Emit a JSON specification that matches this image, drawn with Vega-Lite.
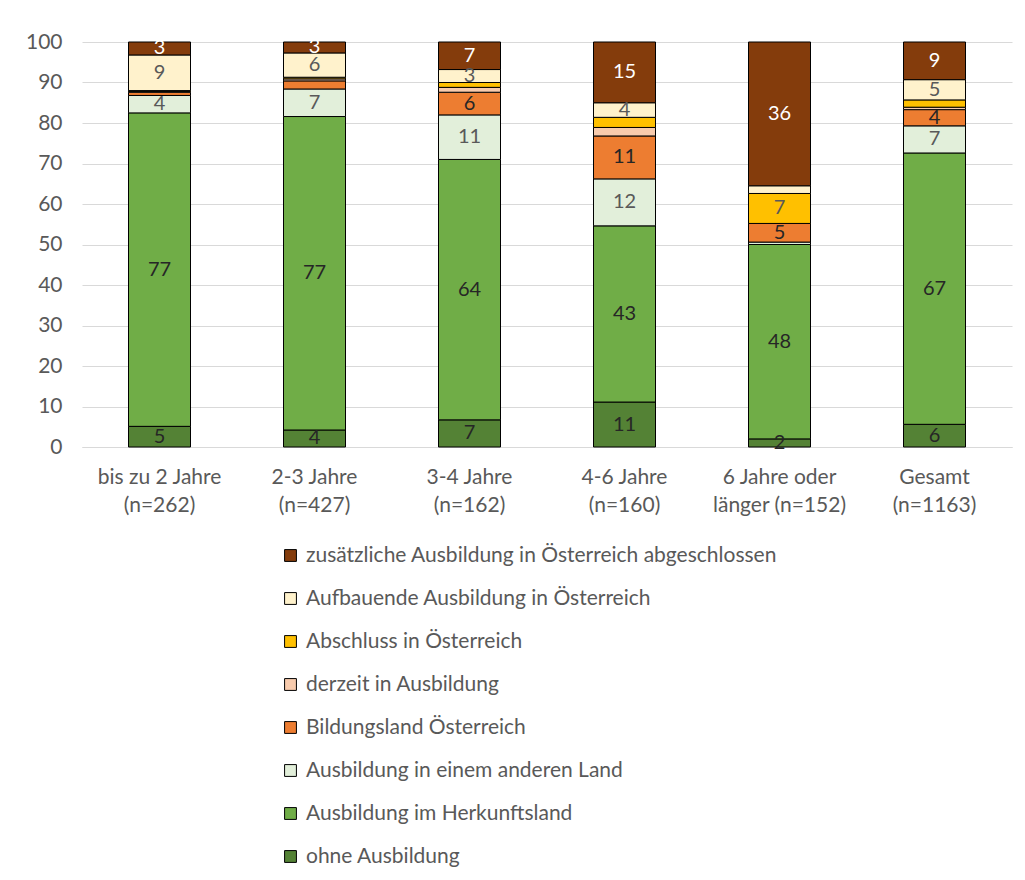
{
  "$schema": "https://vega.github.io/schema/vega-lite/v6.json",
  "autosize": "none",
  "width": 930,
  "height": 405,
  "padding": {"left": 82, "top": 42, "right": 13, "bottom": 433},
  "background": "white",
  "config": {
    "font": "Lato",
    "view": {"stroke": null},
    "axis": {"labelFont": "Lato", "labelColor": "#595959", "labelFontSize": 21},
    "legend": {"labelFont": "Lato"}
  },
  "data": {
    "values": [
      {"group": "bis zu 2 Jahre|(n=262)", "cat": "ohne Ausbildung", "value": 5.1, "label": "5"},
      {"group": "bis zu 2 Jahre|(n=262)", "cat": "Ausbildung im Herkunftsland", "value": 77.4, "label": "77"},
      {"group": "bis zu 2 Jahre|(n=262)", "cat": "Ausbildung in einem anderen Land", "value": 4.3, "label": "4"},
      {"group": "bis zu 2 Jahre|(n=262)", "cat": "Bildungsland Österreich", "value": 0.8, "label": ""},
      {"group": "bis zu 2 Jahre|(n=262)", "cat": "derzeit in Ausbildung", "value": 0.2, "label": ""},
      {"group": "bis zu 2 Jahre|(n=262)", "cat": "Abschluss in Österreich", "value": 0.2, "label": ""},
      {"group": "bis zu 2 Jahre|(n=262)", "cat": "Aufbauende Ausbildung in Österreich", "value": 8.8, "label": "9"},
      {"group": "bis zu 2 Jahre|(n=262)", "cat": "zusätzliche Ausbildung in Österreich abgeschlossen", "value": 3.2, "label": "3"},

      {"group": "2-3 Jahre|(n=427)", "cat": "ohne Ausbildung", "value": 4.2, "label": "4"},
      {"group": "2-3 Jahre|(n=427)", "cat": "Ausbildung im Herkunftsland", "value": 77.4, "label": "77"},
      {"group": "2-3 Jahre|(n=427)", "cat": "Ausbildung in einem anderen Land", "value": 6.8, "label": "7"},
      {"group": "2-3 Jahre|(n=427)", "cat": "Bildungsland Österreich", "value": 2.0, "label": ""},
      {"group": "2-3 Jahre|(n=427)", "cat": "derzeit in Ausbildung", "value": 0.5, "label": ""},
      {"group": "2-3 Jahre|(n=427)", "cat": "Abschluss in Österreich", "value": 0.4, "label": ""},
      {"group": "2-3 Jahre|(n=427)", "cat": "Aufbauende Ausbildung in Österreich", "value": 6.0, "label": "6"},
      {"group": "2-3 Jahre|(n=427)", "cat": "zusätzliche Ausbildung in Österreich abgeschlossen", "value": 2.7, "label": "3"},

      {"group": "3-4 Jahre|(n=162)", "cat": "ohne Ausbildung", "value": 6.7, "label": "7"},
      {"group": "3-4 Jahre|(n=162)", "cat": "Ausbildung im Herkunftsland", "value": 64.3, "label": "64"},
      {"group": "3-4 Jahre|(n=162)", "cat": "Ausbildung in einem anderen Land", "value": 11.0, "label": "11"},
      {"group": "3-4 Jahre|(n=162)", "cat": "Bildungsland Österreich", "value": 5.6, "label": "6"},
      {"group": "3-4 Jahre|(n=162)", "cat": "derzeit in Ausbildung", "value": 1.2, "label": ""},
      {"group": "3-4 Jahre|(n=162)", "cat": "Abschluss in Österreich", "value": 1.2, "label": ""},
      {"group": "3-4 Jahre|(n=162)", "cat": "Aufbauende Ausbildung in Österreich", "value": 3.2, "label": "3"},
      {"group": "3-4 Jahre|(n=162)", "cat": "zusätzliche Ausbildung in Österreich abgeschlossen", "value": 6.8, "label": "7"},

      {"group": "4-6 Jahre|(n=160)", "cat": "ohne Ausbildung", "value": 11.1, "label": "11"},
      {"group": "4-6 Jahre|(n=160)", "cat": "Ausbildung im Herkunftsland", "value": 43.5, "label": "43"},
      {"group": "4-6 Jahre|(n=160)", "cat": "Ausbildung in einem anderen Land", "value": 11.6, "label": "12"},
      {"group": "4-6 Jahre|(n=160)", "cat": "Bildungsland Österreich", "value": 10.6, "label": "11"},
      {"group": "4-6 Jahre|(n=160)", "cat": "derzeit in Ausbildung", "value": 2.1, "label": ""},
      {"group": "4-6 Jahre|(n=160)", "cat": "Abschluss in Österreich", "value": 2.5, "label": ""},
      {"group": "4-6 Jahre|(n=160)", "cat": "Aufbauende Ausbildung in Österreich", "value": 3.6, "label": "4"},
      {"group": "4-6 Jahre|(n=160)", "cat": "zusätzliche Ausbildung in Österreich abgeschlossen", "value": 15.0, "label": "15"},

      {"group": "6 Jahre oder|länger (n=152)", "cat": "ohne Ausbildung", "value": 2.0, "label": "2"},
      {"group": "6 Jahre oder|länger (n=152)", "cat": "Ausbildung im Herkunftsland", "value": 48.0, "label": "48"},
      {"group": "6 Jahre oder|länger (n=152)", "cat": "Ausbildung in einem anderen Land", "value": 0.6, "label": ""},
      {"group": "6 Jahre oder|länger (n=152)", "cat": "Bildungsland Österreich", "value": 4.6, "label": "5"},
      {"group": "6 Jahre oder|länger (n=152)", "cat": "derzeit in Ausbildung", "value": 0.0, "label": ""},
      {"group": "6 Jahre oder|länger (n=152)", "cat": "Abschluss in Österreich", "value": 7.4, "label": "7"},
      {"group": "6 Jahre oder|länger (n=152)", "cat": "Aufbauende Ausbildung in Österreich", "value": 1.9, "label": ""},
      {"group": "6 Jahre oder|länger (n=152)", "cat": "zusätzliche Ausbildung in Österreich abgeschlossen", "value": 35.5, "label": "36"},

      {"group": "Gesamt|(n=1163)", "cat": "ohne Ausbildung", "value": 5.6, "label": "6"},
      {"group": "Gesamt|(n=1163)", "cat": "Ausbildung im Herkunftsland", "value": 67.0, "label": "67"},
      {"group": "Gesamt|(n=1163)", "cat": "Ausbildung in einem anderen Land", "value": 6.7, "label": "7"},
      {"group": "Gesamt|(n=1163)", "cat": "Bildungsland Österreich", "value": 4.0, "label": "4"},
      {"group": "Gesamt|(n=1163)", "cat": "derzeit in Ausbildung", "value": 0.6, "label": ""},
      {"group": "Gesamt|(n=1163)", "cat": "Abschluss in Österreich", "value": 1.8, "label": ""},
      {"group": "Gesamt|(n=1163)", "cat": "Aufbauende Ausbildung in Österreich", "value": 5.0, "label": "5"},
      {"group": "Gesamt|(n=1163)", "cat": "zusätzliche Ausbildung in Österreich abgeschlossen", "value": 9.3, "label": "9"}
    ]
  },
  "transform": [
    {"calculate": "indexof(['ohne Ausbildung','Ausbildung im Herkunftsland','Ausbildung in einem anderen Land','Bildungsland Österreich','derzeit in Ausbildung','Abschluss in Österreich','Aufbauende Ausbildung in Österreich','zusätzliche Ausbildung in Österreich abgeschlossen'], datum.cat)", "as": "k"},
    {"stack": "value", "groupby": ["group"], "sort": [{"field": "k", "order": "ascending"}], "as": ["y0", "y1"]},
    {"calculate": "(datum.y0 + datum.y1) / 2", "as": "mid"}
  ],
  "encoding": {
    "x": {
      "field": "group",
      "type": "nominal",
      "sort": null,
      "scale": {"paddingInner": 0.6, "paddingOuter": 0.3},
      "axis": {
        "title": null,
        "labelAngle": 0,
        "labelExpr": "split(datum.value, '|')",
        "labelLineHeight": 28,
        "labelPadding": 19,
        "ticks": false,
        "domain": true,
        "domainColor": "#D9D9D9",
        "labelFontSize": 21
      }
    }
  },
  "layer": [
    {
      "mark": {"type": "bar", "stroke": "#000000", "strokeWidth": 1},
      "encoding": {
        "y": {
          "field": "y0",
          "type": "quantitative",
          "scale": {"domain": [0, 100], "nice": false},
          "axis": {
            "title": null,
            "values": [0, 10, 20, 30, 40, 50, 60, 70, 80, 90, 100],
            "domain": false,
            "ticks": false,
            "gridColor": "#D9D9D9",
            "gridWidth": 1,
            "labelPadding": 20,
            "labelFontSize": 21
          }
        },
        "y2": {"field": "y1"},
        "color": {
          "field": "cat",
          "type": "nominal",
          "scale": {
            "domain": ["zusätzliche Ausbildung in Österreich abgeschlossen", "Aufbauende Ausbildung in Österreich", "Abschluss in Österreich", "derzeit in Ausbildung", "Bildungsland Österreich", "Ausbildung in einem anderen Land", "Ausbildung im Herkunftsland", "ohne Ausbildung"],
            "range": ["#843C0C", "#FFF2CC", "#FFC000", "#F8CBAD", "#ED7D31", "#E2EFDA", "#70AD47", "#548235"]
          },
          "legend": {
            "title": null,
            "orient": "none",
            "legendX": 198,
            "legendY": 503,
            "symbolType": "square",
            "symbolSize": 140,
            "symbolStrokeColor": "#000000",
            "symbolStrokeWidth": 1,
            "symbolOpacity": 1,
            "labelFontSize": 21,
            "labelColor": "#595959",
            "labelOffset": 5,
            "rowPadding": 21,
            "labelLimit": 700
          }
        }
      }
    },
    {
      "transform": [{"filter": "datum.label != ''"}],
      "mark": {"type": "text", "fontSize": 20, "baseline": "middle", "align": "center"},
      "encoding": {
        "y": {"field": "mid", "type": "quantitative"},
        "text": {"field": "label"},
        "color": {
          "field": "cat",
          "type": "nominal",
          "scale": {
            "domain": ["zusätzliche Ausbildung in Österreich abgeschlossen", "Aufbauende Ausbildung in Österreich", "Abschluss in Österreich", "derzeit in Ausbildung", "Bildungsland Österreich", "Ausbildung in einem anderen Land", "Ausbildung im Herkunftsland", "ohne Ausbildung"],
            "range": ["#FFFFFF", "#595959", "#595959", "#262626", "#262626", "#595959", "#262626", "#262626"]
          },
          "legend": null
        }
      }
    }
  ],
  "resolve": {"scale": {"color": "independent"}}
}
